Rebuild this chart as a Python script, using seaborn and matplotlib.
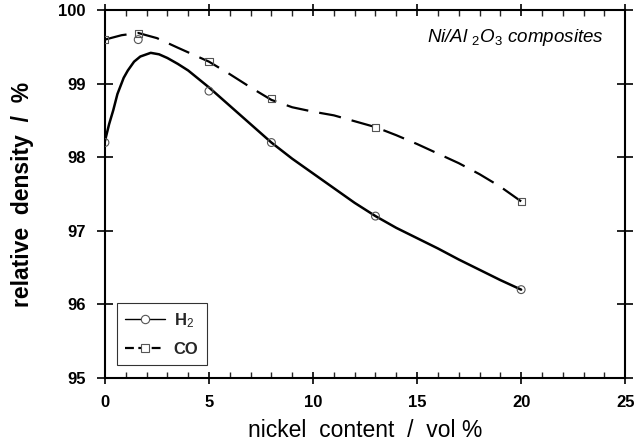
import matplotlib
matplotlib.use("Agg")
import matplotlib.pyplot as plt
from matplotlib.lines import Line2D
from matplotlib.ticker import MultipleLocator
import seaborn as sns
import pandas as pd

# Measured densities (nickel content in vol %, relative density in %)
h2_x = [0, 1.6, 5, 8, 13, 20]
h2_y = [98.2, 99.6, 98.9, 98.2, 97.2, 96.2]
co_x = [0, 1.6, 5, 8, 13, 20]
co_y = [99.6, 99.68, 99.3, 98.8, 98.4, 97.4]

# Smoothed trend curves drawn through each series
h2_fit_x = [0, 0.2, 0.4, 0.6, 0.9, 1.1, 1.4, 1.7, 2.2, 2.6, 3.0, 3.5, 4.0,
            5.0, 6.0, 7.0, 8.0, 9.0, 10.0, 11.0, 12.0, 13.0, 14.0, 15.0,
            16.0, 17.0, 18.0, 19.0, 20.0]
h2_fit_y = [98.22, 98.45, 98.64, 98.86, 99.08, 99.18, 99.30, 99.37, 99.42,
            99.40, 99.35, 99.27, 99.18, 98.95, 98.70, 98.45, 98.20, 97.98,
            97.78, 97.58, 97.38, 97.20, 97.04, 96.90, 96.76, 96.61, 96.47,
            96.33, 96.20]
co_fit_x = [0, 0.8, 1.6, 2.5, 3.5, 5.0, 6.0, 7.0, 8.0, 9.0, 10.0, 11.0, 12.0,
            13.0, 14.0, 15.0, 16.0, 17.0, 18.0, 19.0, 20.0]
co_fit_y = [99.60, 99.66, 99.69, 99.62, 99.49, 99.30, 99.13, 98.95, 98.78,
            98.68, 98.62, 98.57, 98.49, 98.41, 98.30, 98.18, 98.05, 97.92,
            97.77, 97.60, 97.40]

x_ticks = [0, 5, 10, 15, 20, 25]
y_ticks = [95, 96, 97, 98, 99, 100]

sns.set_theme(style="ticks")
plt.rcParams["font.family"] = ["Liberation Sans", "DejaVu Sans"]
plt.rcParams["mathtext.fontset"] = "custom"
plt.rcParams["mathtext.rm"] = "Liberation Sans"
plt.rcParams["mathtext.it"] = "Liberation Sans:italic"
plt.rcParams["mathtext.bf"] = "Liberation Sans:bold"

fig = plt.figure(figsize=(6.36, 4.43), dpi=100)
ax = fig.add_axes([0.165, 0.147, 0.818, 0.830])

h2_fit = pd.DataFrame({"x": h2_fit_x, "y": h2_fit_y})
co_fit = pd.DataFrame({"x": co_fit_x, "y": co_fit_y})
sns.lineplot(data=h2_fit, x="x", y="y", ax=ax, color="black", lw=1.8,
             sort=False, estimator=None)
sns.lineplot(data=co_fit, x="x", y="y", ax=ax, color="black", lw=1.6,
             sort=False, estimator=None, linestyle=(0, (10, 5)))

sns.scatterplot(x=h2_x, y=h2_y, ax=ax, marker="o", s=32, facecolor="none",
                edgecolor="#555555", linewidth=0.8, zorder=3)
sns.scatterplot(x=co_x, y=co_y, ax=ax, marker="s", s=26, facecolor="none",
                edgecolor="#555555", linewidth=0.8, zorder=3)

ax.set_xlim(0, 25)
ax.set_ylim(95, 100)
ax.set_xticks(x_ticks)
ax.set_yticks(y_ticks)
ax.xaxis.set_minor_locator(MultipleLocator(1))

for side in ["left", "bottom", "top", "right"]:
    ax.spines[side].set_visible(True)
    ax.spines[side].set_linewidth(1.5)
    ax.spines[side].set_color("black")

ax.tick_params(axis="x", which="major", direction="inout", length=9,
               width=1.2, top=True, labelsize=12, pad=8, colors="black")
ax.tick_params(axis="x", which="minor", direction="in", length=4,
               width=1.0, top=True)
ax.tick_params(axis="y", which="major", direction="inout", length=12,
               width=1.2, right=True, labelsize=12, pad=8, colors="black")
for lab in ax.get_xticklabels() + ax.get_yticklabels():
    lab.set_fontweight("bold")

ax.set_xlabel("nickel  content  /  vol %", fontsize=16.5, labelpad=6,
              color="black")
ax.set_ylabel("relative  density  /  %", fontsize=16.5, fontweight="bold",
              labelpad=17, color="black")

ax.text(0.96, 0.955, r"Ni/Al $_2$O$_3$ composites", transform=ax.transAxes,
        ha="right", va="top", fontsize=13.5, fontstyle="italic",
        color="black")

handles = [
    Line2D([], [], color="black", lw=1.0, marker="o", markersize=6,
           markerfacecolor="white", markeredgecolor="#555555",
           markeredgewidth=0.8),
    Line2D([], [], color="black", lw=1.6, linestyle=(0, (4, 2)), marker="s",
           markersize=5.5, markerfacecolor="white", markeredgecolor="#555555",
           markeredgewidth=0.8),
]
leg = ax.legend(handles, [r"H$_2$", "CO"], loc="lower left",
                bbox_to_anchor=(0.023, 0.035), borderaxespad=0,
                frameon=True, fancybox=False, edgecolor="black",
                fontsize=12, handlelength=2.4, borderpad=0.5,
                labelspacing=0.7, handletextpad=0.5)
leg.get_frame().set_linewidth(0.8)
for t in leg.get_texts():
    t.set_fontweight("bold")

fig.savefig("out.png", dpi=100)
